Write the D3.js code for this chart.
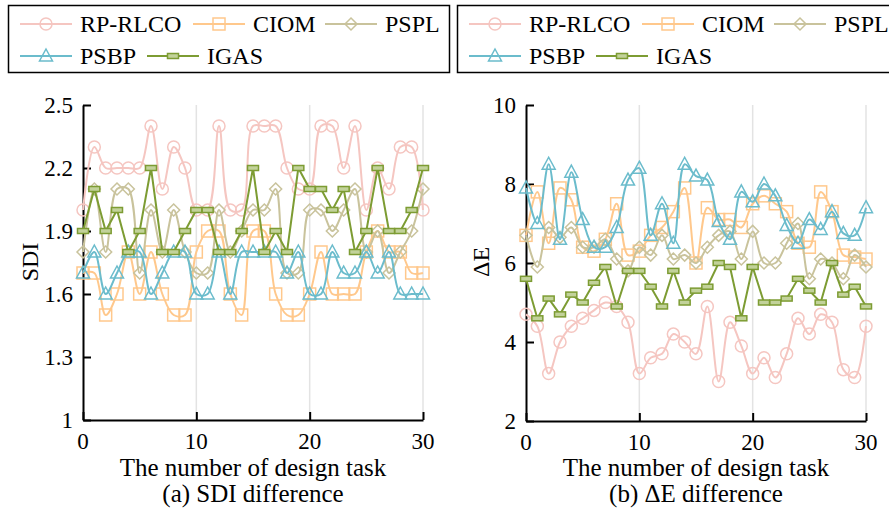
<html>
<head>
<meta charset="utf-8">
<script src="https://d3js.org/d3.v7.min.js"></script>
<style>
  body { margin: 0; background: #fff; }
</style>
</head>
<body>
<svg id="chart" width="889" height="515"></svg>
<script>
// task index (x axis)
var tasks = [0,1,2,3,4,5,6,7,8,9,10,11,12,13,14,15,16,17,18,19,20,21,22,23,24,25,26,27,28,29,30];

var seriesNames = ["RP-RLCO", "CIOM", "PSPL", "PSBP", "IGAS"];

// (a) SDI difference
var sdiRP   = [2.0,2.3,2.2,2.2,2.2,2.2,2.4,2.1,2.3,2.2,2.0,2.0,2.4,2.0,2.0,2.4,2.4,2.4,2.2,2.1,2.1,2.4,2.4,2.2,2.4,2.0,2.2,2.1,2.3,2.3,2.0];
var sdiCIOM = [1.7,1.7,1.5,1.6,1.8,1.6,1.8,1.6,1.5,1.5,1.8,1.9,1.9,1.6,1.5,1.9,1.9,1.6,1.5,1.5,1.6,1.8,1.6,1.6,1.6,1.8,1.9,1.8,1.8,1.7,1.7];
var sdiPSPL = [1.8,2.1,1.8,2.1,2.1,1.7,2.0,1.8,2.0,1.8,1.7,1.7,2.0,1.8,1.9,2.0,2.0,2.1,1.7,1.7,2.0,2.0,1.9,2.0,2.1,1.8,1.9,1.7,1.8,1.9,2.1];
var sdiPSBP = [1.7,1.8,1.6,1.7,1.8,1.8,1.6,1.7,1.8,1.8,1.6,1.6,1.8,1.6,1.8,1.8,1.8,1.8,1.7,1.8,1.6,1.6,1.8,1.7,1.7,1.8,1.7,1.8,1.6,1.6,1.6];
var sdiIGAS = [1.9,2.1,1.9,2.0,1.8,1.9,2.2,1.8,1.8,1.9,2.0,2.0,1.8,1.8,1.9,2.2,1.8,1.9,1.8,2.2,2.1,2.1,2.0,2.1,1.8,1.9,2.2,1.9,1.9,2.0,2.2];

// (b) delta E difference
var deRP   = [4.7,4.4,3.2,4.0,4.4,4.6,4.8,5.0,4.9,4.5,3.2,3.6,3.7,4.2,4.0,3.7,4.9,3.0,4.5,3.9,3.2,3.6,3.1,3.7,4.6,4.2,4.7,4.5,3.3,3.1,4.4];
var deCIOM = [6.7,7.8,6.5,7.9,7.6,6.4,6.3,6.6,7.5,6.2,6.3,6.7,6.9,7.3,7.9,6.0,7.4,7.1,7.1,6.9,7.5,7.7,7.5,7.3,6.5,6.4,7.8,7.3,6.2,6.15,6.1];
var dePSPL = [6.7,5.9,6.9,6.65,6.9,6.4,6.4,6.6,6.1,5.8,6.4,6.2,6.7,6.1,6.2,6.0,6.4,6.7,6.8,6.1,6.8,6.0,6.0,6.5,7.0,5.6,6.1,6.0,5.6,6.2,5.9];
var dePSBP = [7.9,7.0,8.5,6.6,8.3,7.1,6.4,6.4,6.9,8.1,8.4,6.7,7.5,6.5,8.5,8.2,8.1,7.05,6.6,7.8,7.55,8.0,7.7,6.95,6.5,7.1,6.85,7.3,6.75,6.7,7.4];
var deIGAS = [5.6,4.6,5.1,4.7,5.2,5.0,5.5,5.9,4.9,5.8,5.8,5.4,4.9,5.8,5.0,5.3,5.4,6.0,5.9,4.6,5.9,5.0,5.0,5.1,5.6,5.3,5.0,6.0,5.2,5.4,4.9];

var sdiTicks = [1, 1.3, 1.6, 1.9, 2.2, 2.5];
var deTicks = [2, 4, 6, 8, 10];
var xTicks = [0, 10, 20, 30];

var colors = ["#f5c6c1", "#ffc88c", "#c9c39c", "#6bbccc", "#7d9c33"];
var shapes = ["circle", "square", "diamond", "triangle", "bar"];

var FONT = "Liberation Serif";

var svg = d3.select("#chart");
svg.append("rect").attr("width", 889).attr("height", 515).attr("fill", "#fff");

function addText(parent, x, y, str, size, anchor, rot) {
  var tr = "translate(" + x + "," + y + ")" + (rot ? " rotate(" + rot + ")" : "");
  return parent.append("text").attr("transform", tr)
    .attr("font-family", FONT).attr("font-size", size).attr("fill", "#000")
    .attr("text-anchor", anchor || "start").text(str);
}

function marker(sel, shape, color) {
  if (shape == "circle") {
    sel.append("circle").attr("r", 6).attr("fill", "none").attr("stroke", color).attr("stroke-width", 1.5);
  } else if (shape == "square") {
    sel.append("rect").attr("x", -6).attr("y", -6).attr("width", 12).attr("height", 12)
      .attr("fill", "none").attr("stroke", color).attr("stroke-width", 1.5);
  } else if (shape == "diamond") {
    sel.append("path").attr("d", "M0,-6L6,0L0,6L-6,0Z")
      .attr("fill", "none").attr("stroke", color).attr("stroke-width", 1.5);
  } else if (shape == "triangle") {
    sel.append("path").attr("d", "M0,-7L6.5,5L-6.5,5Z")
      .attr("fill", "none").attr("stroke", color).attr("stroke-width", 1.5);
  } else {
    sel.append("rect").attr("x", -5.5).attr("y", -2.5).attr("width", 11).attr("height", 5)
      .attr("fill", "#c2d29a").attr("stroke", color).attr("stroke-width", 1.5);
  }
}

function drawPanel(opts) {
  var x = d3.scaleLinear().domain([0, 30]).range([opts.left, opts.left + 340]);
  var y = d3.scaleLinear().domain(opts.domain).range([opts.bottom, 105]);
  var g = svg.append("g");

  // vertical grid
  g.selectAll("line.grid").data([10, 20, 30]).enter().append("line")
    .attr("class", "grid")
    .attr("x1", function (d) { return x(d); }).attr("x2", function (d) { return x(d); })
    .attr("y1", 105).attr("y2", opts.bottom)
    .attr("stroke", "#e3e3e3").attr("stroke-width", 1.5);

  var xAxis = g.append("g").attr("transform", "translate(0," + opts.bottom + ")")
    .call(d3.axisBottom(x).tickValues(xTicks).tickSizeInner(-8).tickSizeOuter(0).tickFormat(""));
  var yAxis = g.append("g").attr("transform", "translate(" + opts.left + ",0)")
    .call(d3.axisLeft(y).tickValues(opts.ticks).tickSizeInner(-8).tickSizeOuter(0).tickFormat(""));
  [xAxis, yAxis].forEach(function (a) {
    a.select(".domain").attr("stroke", "#000").attr("stroke-width", 2);
    a.selectAll(".tick line").attr("stroke", "#000").attr("stroke-width", 2);
    a.selectAll(".tick text").remove();
  });

  // tick labels
  xTicks.forEach(function (t) {
    addText(g, x(t), opts.bottom + 29, String(t), 23, "middle");
  });
  opts.ticks.forEach(function (t) {
    addText(g, opts.left - 10, y(t) + 8, opts.fmt(t), 23, "end");
  });

  var line = d3.line().x(function (d, i) { return x(tasks[i]); }).y(function (d) { return y(d); });

  opts.series.forEach(function (vals, k) {
    var curve = k == 4 ? d3.curveLinear : d3.curveCatmullRom.alpha(0.5);
    g.append("path").datum(vals)
      .attr("d", line.curve(curve))
      .attr("fill", "none").attr("stroke", colors[k]).attr("stroke-width", 2);
    var pts = g.selectAll("g.m" + k).data(vals).enter().append("g")
      .attr("class", "m" + k)
      .attr("transform", function (d, i) { return "translate(" + x(tasks[i]) + "," + y(d) + ")"; });
    marker(pts, shapes[k], colors[k]);
  });

  addText(svg, opts.ylabX, 262, opts.ylabel, 24, "middle", -90);
  addText(svg, opts.left + 170, 476, "The number of design task", 25, "middle");
  addText(svg, opts.left + 170, 502, opts.caption, 25, "middle");
}

function drawLegend(ox) {
  var g = svg.append("g").attr("transform", "translate(" + ox + ",0)");
  g.append("rect").attr("x", 0.5).attr("y", 5.5).attr("width", 441).attr("height", 67)
    .attr("fill", "#fff").attr("stroke", "#000").attr("stroke-width", 1.5);
  var pos = [[12, 24], [185, 24], [317, 24], [12, 56], [139, 56]];
  seriesNames.forEach(function (name, k) {
    var p = pos[k];
    g.append("line").attr("x1", p[0]).attr("x2", p[0] + 52).attr("y1", p[1]).attr("y2", p[1])
      .attr("stroke", colors[k]).attr("stroke-width", 2);
    var m = g.append("g").attr("transform", "translate(" + (p[0] + 26) + "," + p[1] + ")");
    marker(m, shapes[k], colors[k]);
    addText(g, p[0] + 60, p[1] + 8, name, 24);
  });
}

drawPanel({
  left: 83, bottom: 420, domain: [1, 2.5], ticks: sdiTicks,
  fmt: function (d) { return d == 1 ? "1" : d.toFixed(1); },
  series: [sdiRP, sdiCIOM, sdiPSPL, sdiPSBP, sdiIGAS],
  ylabel: "SDI", ylabX: 38, caption: "(a) SDI difference"
});
drawPanel({
  left: 526, bottom: 421, domain: [2, 10], ticks: deTicks,
  fmt: d3.format("d"),
  series: [deRP, deCIOM, dePSPL, dePSBP, deIGAS],
  ylabel: "\u0394E", ylabX: 489, caption: "(b) \u0394E difference"
});
drawLegend(8);
drawLegend(457);
</script>
</body>
</html>
